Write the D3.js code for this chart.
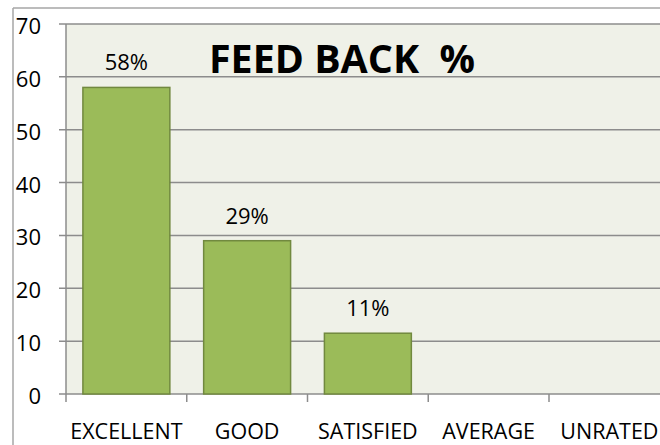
<!DOCTYPE html>
<html>
<head>
<meta charset="utf-8">
<script src="https://cdn.jsdelivr.net/npm/d3@7"></script>
<style>
  html, body { margin: 0; padding: 0; background: #ffffff; }
  svg { display: block; }
  text { font-family: "Open Sans", sans-serif; fill: #000; }
</style>
</head>
<body>
<script>
const categories = ["EXCELLENT", "GOOD", "SATISFIED", "AVERAGE", "UNRATED"];
const values = [58, 29, 11.5, 0, 0];
const valueLabels = ["58%", "29%", "11%", null, null];
const yTicks = [0, 10, 20, 30, 40, 50, 60, 70];
const title = "FEED BACK  %";

const W = 660, H = 445;
const plot = { left: 66, top: 24, right: 669.75, bottom: 394 };

const svg = d3.select("body").append("svg").attr("width", W).attr("height", H);

// outer chart border
svg.append("line").attr("x1", 13).attr("x2", W).attr("y1", 8).attr("y2", 8)
  .attr("stroke", "#a6a6a6").attr("stroke-width", 1.5);
svg.append("line").attr("x1", 13).attr("x2", 13).attr("y1", 8).attr("y2", H)
  .attr("stroke", "#a6a6a6").attr("stroke-width", 1.5);

const x = d3.scaleBand().domain(categories).range([plot.left, plot.right])
  .paddingInner(0.28).paddingOuter(0.14);
const y = d3.scaleLinear().domain([0, 70]).range([plot.bottom, plot.top]);

// plot background
svg.append("rect").attr("x", plot.left).attr("y", plot.top)
  .attr("width", plot.right - plot.left).attr("height", plot.bottom - plot.top)
  .attr("fill", "#eff1e8");

// gridlines
svg.append("g").selectAll("line").data(yTicks).join("line")
  .attr("x1", plot.left - 7).attr("x2", plot.right)
  .attr("y1", d => y(d)).attr("y2", d => y(d))
  .attr("stroke", "#8c8c8c").attr("stroke-width", 1.5);

// y axis line
svg.append("line").attr("x1", plot.left).attr("x2", plot.left)
  .attr("y1", plot.top).attr("y2", plot.bottom)
  .attr("stroke", "#8c8c8c").attr("stroke-width", 1.5);

// x tick marks at band boundaries
const boundaries = categories.map(c => x(c) - x.step() * x.paddingInner() / 2);
boundaries[0] = plot.left;
svg.append("g").selectAll("line").data(boundaries).join("line")
  .attr("x1", d => d).attr("x2", d => d)
  .attr("y1", plot.bottom).attr("y2", plot.bottom + 8)
  .attr("stroke", "#8c8c8c").attr("stroke-width", 1.5);

// y tick labels
svg.append("g").selectAll("text").data(yTicks).join("text")
  .attr("x", 41).attr("y", d => y(d) + 10)
  .attr("text-anchor", "end").attr("font-size", 22)
  .text(d => d);

// bars
svg.append("g").selectAll("rect").data(values).join("rect")
  .filter(d => d > 0)
  .attr("x", (d, i) => x(categories[i]))
  .attr("y", d => y(d))
  .attr("width", x.bandwidth())
  .attr("height", d => y(0) - y(d))
  .attr("fill", "#9bbb59").attr("stroke", "#71893f").attr("stroke-width", 1.5);

// value labels
svg.append("g").selectAll("text").data(values).join("text")
  .attr("x", (d, i) => x(categories[i]) + x.bandwidth() / 2)
  .attr("y", d => y(d) - 17)
  .attr("text-anchor", "middle").attr("font-size", 22)
  .text((d, i) => valueLabels[i] || "");

// x labels
svg.append("g").selectAll("text").data(categories).join("text")
  .attr("x", d => x(d) + x.bandwidth() / 2)
  .attr("y", 439)
  .attr("text-anchor", "middle").attr("font-size", 21.5)
  .text(d => d);

// title
svg.append("text").attr("x", 209).attr("y", 73)
  .attr("font-size", 39).attr("font-weight", "bold")
  .style("white-space", "pre")
  .attr("textLength", 266).attr("lengthAdjust", "spacingAndGlyphs")
  .text(title);
</script>
</body>
</html>
